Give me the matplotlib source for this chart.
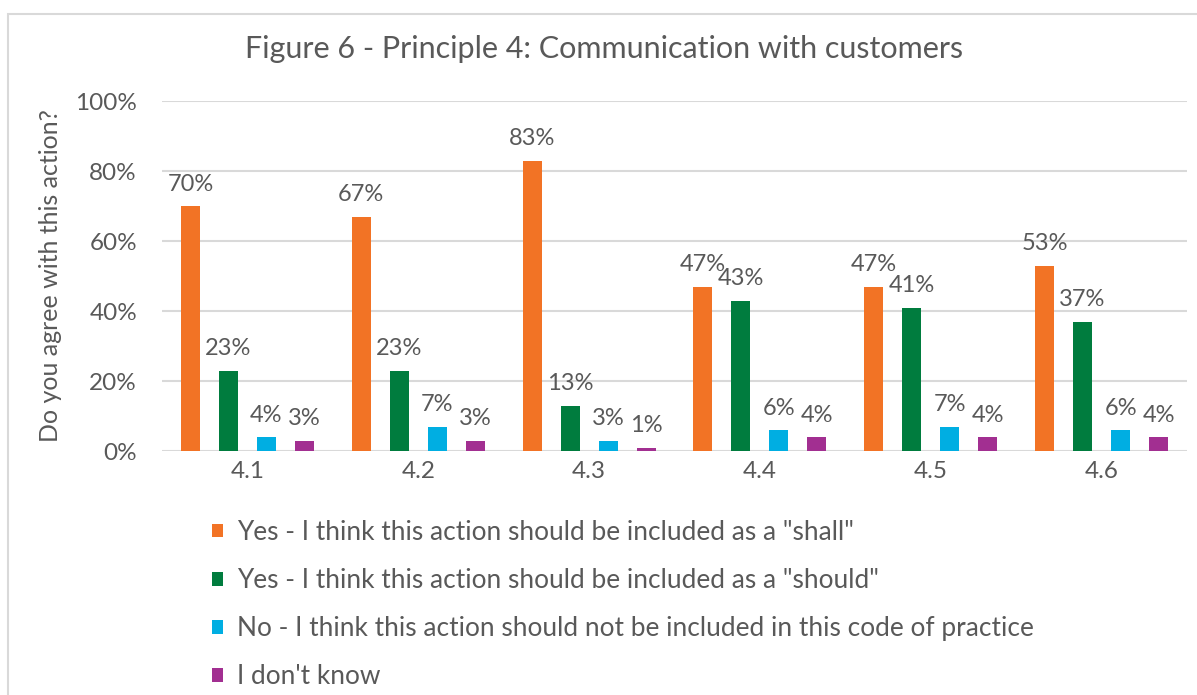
import matplotlib
matplotlib.use("Agg")
import matplotlib.pyplot as plt
from matplotlib.patches import Patch, Rectangle
import numpy as np

plt.rcParams['font.family'] = ['Lato', 'DejaVu Sans']

categories = ['4.1', '4.2', '4.3', '4.4', '4.5', '4.6']
shall = [70, 67, 83, 47, 47, 53]
should = [23, 23, 13, 43, 41, 37]
no = [4, 7, 3, 6, 7, 6]
dont_know = [3, 3, 1, 4, 4, 4]

series_names = [
    'Yes - I think this action should be included as a "shall"',
    'Yes - I think this action should be included as a "should"',
    'No - I think this action should not be included in this code of practice',
    "I don't know",
]
colors = ['#F27325', '#007C3E', '#00AEE2', '#A22F91']
yticks = [0, 20, 40, 60, 80, 100]

text_color = '#595959'
W, H = 1197, 695
fig = plt.figure(figsize=(W / 100, H / 100), dpi=100)
ax = fig.add_axes([162 / W, 1 - 451 / H, (1187 - 162) / W, (451 - 101) / H])

# chart area frame (only top/left edges fall inside the image)
fig.patches.append(Rectangle((8 / W, -0.1), 1.2, 1 - 14 / H + 0.1, transform=fig.transFigure,
                             fill=False, edgecolor='#D9D9D9', linewidth=1.5))

x = np.arange(len(categories))
width = 1 / 9
data = [shall, should, no, dont_know]
for i, (vals, col) in enumerate(zip(data, colors)):
    pos = x + (i - 1.5) * 2 * width
    bars = ax.bar(pos, vals, width=width, color=col, zorder=3)
    for b, v in zip(bars, vals):
        ax.annotate(f'{v:.0f}%', (b.get_x() + b.get_width() / 2, b.get_height()),
                    xytext=(0, 11), textcoords='offset points', ha='center', va='baseline',
                    fontsize=17, color=text_color, zorder=4)

ax.set_xlim(-0.5, len(categories) - 0.5)
ax.set_ylim(0, 100)
ax.set_yticks(yticks)
ax.set_yticklabels([f'{t}%' for t in yticks])
ax.set_xticks(x)
ax.set_xticklabels(categories)
ax.yaxis.grid(True, color='#D9D9D9', linewidth=1.5, zorder=0)
ax.set_axisbelow(True)
for s in ax.spines.values():
    s.set_visible(False)
ax.tick_params(axis='both', length=0, labelsize=17.5, labelcolor=text_color)
ax.tick_params(axis='y', pad=18)
ax.tick_params(axis='x', pad=7)

ax.set_ylabel('Do you agree with this action?', fontsize=18, color=text_color)
ax.yaxis.set_label_coords(-100 / (1187 - 162), 0.5)

fig.text(604 / W, 1 - 49 / H, 'Figure 6 - Principle 4: Communication with customers',
         ha='center', va='center', fontsize=22, color=text_color)

handles = [Patch(facecolor=c) for c in colors]
fig.legend(handles, series_names, loc='upper left', bbox_to_anchor=(212 / W, 1 - 520 / H),
           frameon=False, fontsize=18.9, labelcolor=text_color, handlelength=0.42,
           handleheight=0.42, handletextpad=0.55, labelspacing=0.88,
           borderpad=0, borderaxespad=0)

fig.savefig('out.png', dpi=100)
